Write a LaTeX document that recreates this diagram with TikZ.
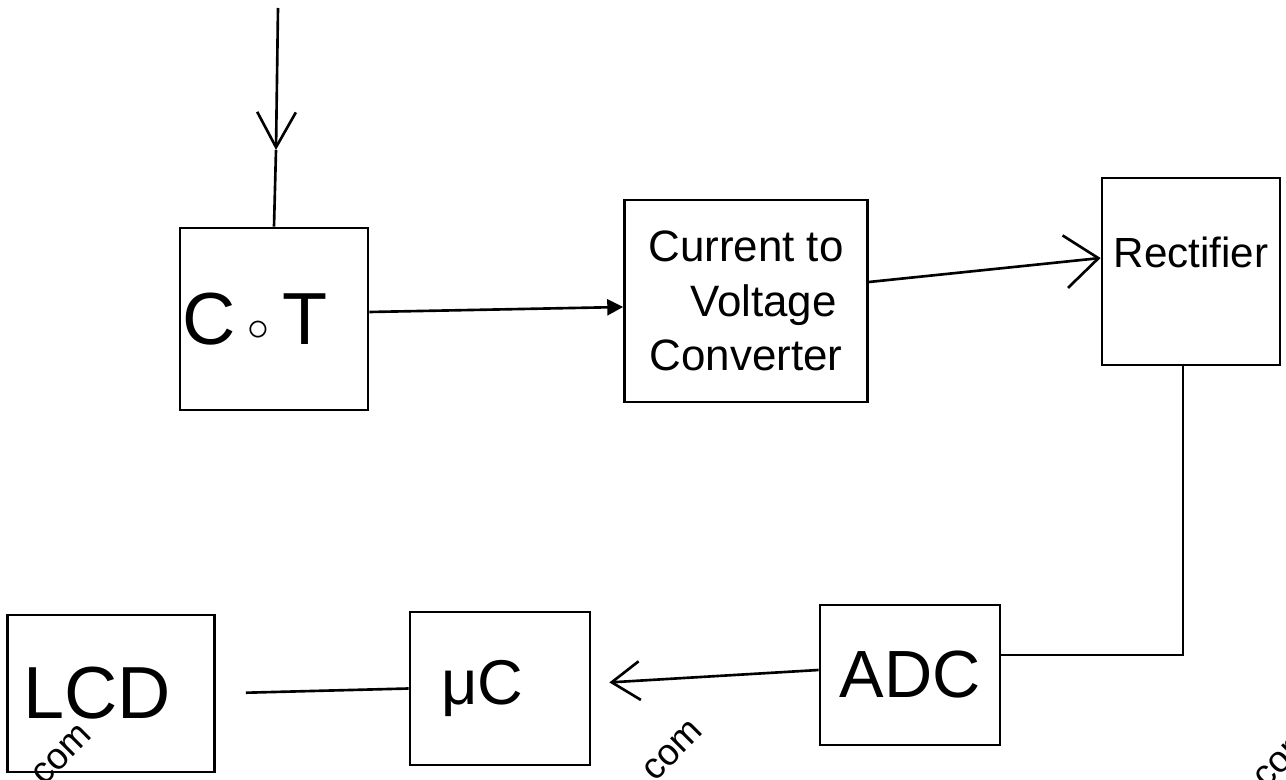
\documentclass[tikz,border=0pt]{standalone}
\usepackage{fontspec}
\setmainfont{Liberation Sans}
\usetikzlibrary{arrows.meta}
\begin{document}
\begin{tikzpicture}[x=0.02cm,y=-0.02cm,
  blk/.style={draw,line width=1.6pt,inner sep=0pt,align=center},
  wire/.style={line width=1.5pt},
  bigtxt/.style={font=\fontsize{42}{48}\selectfont},
  midtxt/.style={font=\fontsize{25}{31}\selectfont},
  wmark/.style={rotate=45,font=\fontsize{21}{21}\selectfont},
  smalltri/.style={-{Triangle[length=9pt,width=9pt]}}
]
\fill[white] (0,0) rectangle (1286,780);
\useasboundingbox (0,0) rectangle (1286,780);

% blocks
\node[blk,bigtxt,minimum width=3.76cm,minimum height=3.64cm] (ct) at (274,319)
  {C\,\raisebox{2pt}{$\circ$}\,T\hspace*{22pt}};
\node[blk,midtxt,minimum width=4.86cm,minimum height=4.04cm] (cv) at (746,301)
  {Current to\\\hspace*{20pt}Voltage\\Converter};
\node[blk,minimum width=3.56cm,minimum height=3.74cm,
  font=\fontsize{24}{28}\selectfont] (rect) at (1191,271.5)
  {\raisebox{22pt}{Rectifier}};
\node[blk,font=\fontsize{38}{44}\selectfont,minimum width=3.6cm,minimum height=2.8cm] (adc) at (910,675) {ADC};
\node[blk,font=\fontsize{36}{42}\selectfont,minimum width=3.6cm,minimum height=3.06cm] (uc) at (500,688.5) {μC\hspace*{20pt}};
\node[blk,bigtxt,minimum width=4.14cm,minimum height=3.14cm] (lcd) at (111,693.5) {LCD\hspace*{16pt}};

% input arrow
\coordinate (in0) at (278,8);
\coordinate (inmid) at (276,150);
\draw[wire,-{Straight Barb[length=20pt,width=22pt,line width=1.5pt]}] (in0) -- (inmid);
\draw[wire] (inmid) -- (ct.north);

% connectors
\draw[wire,smalltri] ([yshift=0.14cm]ct.east) -- ([yshift=-0.12cm]cv.west);
\draw[wire,-{Straight Barb[length=19pt,width=30pt,line width=1.5pt]}]
  ([yshift=0.38cm]cv.east) -- ([yshift=0.27cm]rect.west);
\draw[wire] ([xshift=-0.16cm]rect.south) |- ([yshift=0.4cm]adc.east);
\draw[wire,shorten >=0.36cm,-{Straight Barb[length=16pt,width=22pt,line width=1.5pt]}]
  ([yshift=0.1cm]adc.west) -- ([yshift=0.1cm]uc.east);
\draw[wire,shorten >=0.6cm] (uc.west) -- (lcd.east);

% watermarks
\node[wmark] (w1) at (62,755) {com};
\node[wmark] (w2) at (673,751) {com};
\node[wmark] (w3) at (1284,758) {com};
\end{tikzpicture}
\end{document}
